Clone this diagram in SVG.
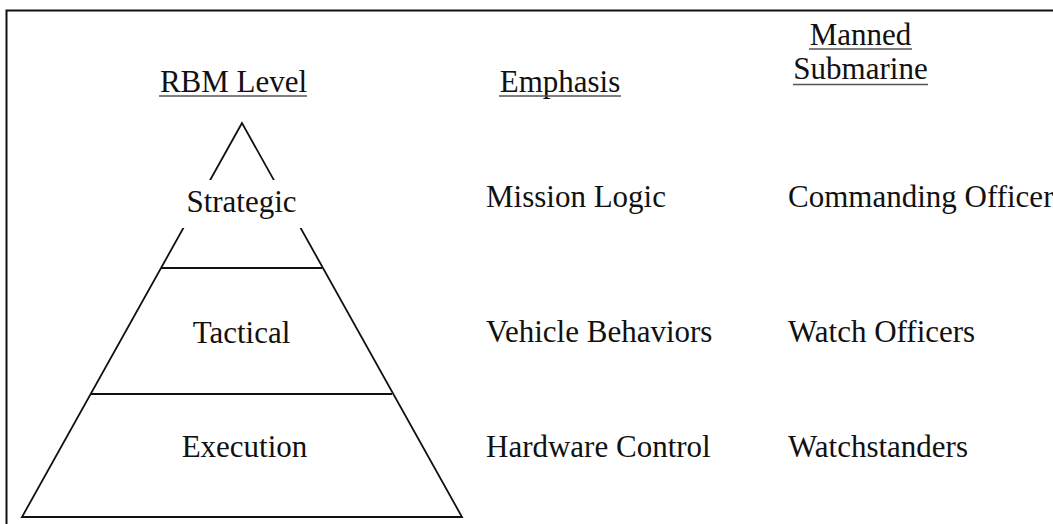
<svg xmlns="http://www.w3.org/2000/svg" width="1053" height="524" viewBox="0 0 1053 524">
<style>
text{font-family:"Liberation Serif","Times New Roman",serif;font-size:31px;fill:#111;font-variant-ligatures:none}
.c{text-anchor:middle}
.ln{stroke:#111;stroke-width:1.8;fill:none}
.ul{stroke:#555;stroke-width:1.6}
</style>
<rect x="0" y="0" width="1053" height="524" fill="#fff"/>
<path d="M6.5 524 V10.5 H1053" fill="none" stroke="#111" stroke-width="2"/>
<g id="headers">
<text class="c" x="233.5" y="91.5">RBM Level</text>
<line class="ul" x1="159" y1="96" x2="307" y2="96"/>
<text class="c" x="560" y="91.5">Emphasis</text>
<line class="ul" x1="499" y1="96" x2="621" y2="96"/>
<text class="c" x="860.5" y="44.5">Manned</text>
<line class="ul" x1="809" y1="49" x2="912" y2="49"/>
<text class="c" x="860.5" y="78.5">Submarine</text>
<line class="ul" x1="793" y1="84.5" x2="928" y2="84.5"/>
</g>
<g id="pyramid">
<polygon class="ln" points="242,123 22,517 462,517"/>
<line class="ln" x1="161" y1="268" x2="322" y2="268"/>
<line class="ln" x1="91" y1="394" x2="392" y2="394"/>
<rect x="175" y="180" width="135" height="48" fill="#fff"/>
</g>
<g id="strategic">
<text class="c" x="241.5" y="211.5">Strategic</text>
<text x="486" y="206.5">Mission Logic</text>
<text x="788" y="206.5">Commanding Officer</text>
</g>
<g id="tactical">
<text class="c" x="241.5" y="342.5">Tactical</text>
<text x="486" y="341.5">Vehicle Behaviors</text>
<text x="788" y="341.5">Watch Officers</text>
</g>
<g id="execution">
<text class="c" x="244.5" y="456.5">Execution</text>
<text x="486" y="456.5">Hardware Control</text>
<text x="788" y="456.5">Watchstanders</text>
</g>
</svg>
